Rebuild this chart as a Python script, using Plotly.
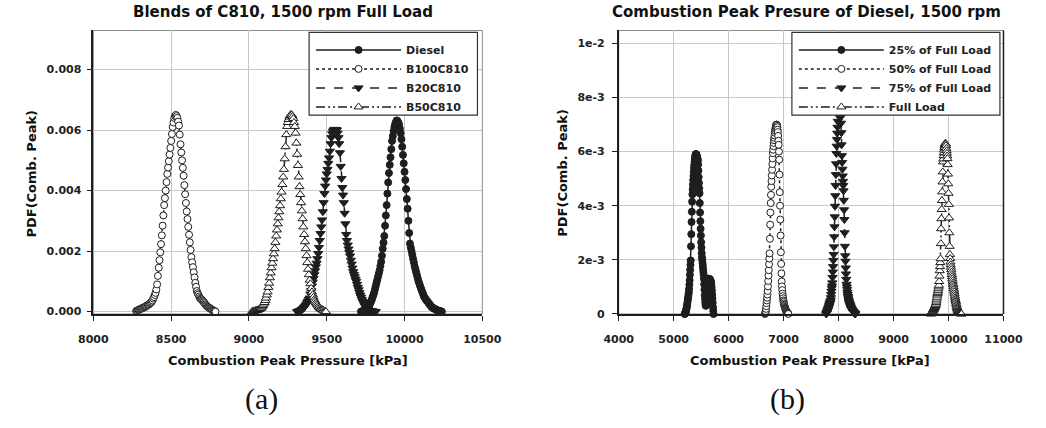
import plotly.graph_objects as go

# ---------------- data (PDF values in units of 1e-5) ----------------
# Panel (a): Blends of C810, 1500 rpm Full Load
DIESEL_X = [9720,9725,9730,9735,9740,9745,9750,9755,9760,9765,
            9770,9775,9780,9785,9790,9795,9800,9805,9810,9815,
            9820,9825,9830,9835,9840,9845,9850,9855,9860,9865,
            9870,9875,9880,9885,9890,9895,9900,9905,9910,9915,
            9920,9925,9930,9935,9940,9945,9950,9955,9960,9965,
            9970,9975,9980,9985,9990,9995,10000,10005,10010,10015,
            10020,10025,10030,10035,10040,10045,10050,10055,10060,10065,
            10070,10075,10080,10085,10090,10095,10100,10105,10110,10115,
            10120,10125,10130,10135,10140,10145,10150,10155,10160,10165,
            10170,10175,10180,10185,10190,10195,10200,10205,10210,10215,
            10220,10225,10230,10235,10240]
DIESEL_Y = [0,1,1,2,3,4,6,8,10,13,
            17,22,28,34,40,48,55,63,74,85,
            95,105,116,126,137,151,165,185,208,228,
            250,284,318,352,390,427,458,485,510,537,
            564,580,597,610,620,627,632,630,625,618,
            605,590,570,545,518,490,462,435,405,372,
            340,300,260,225,212,200,188,175,163,150,
            140,130,120,110,100,93,85,78,71,64,
            57,50,46,42,38,35,32,28,25,22,
            18,15,13,12,10,9,7,6,5,4,
            3,2,1,1,0]

B100_X = [8275,8280,8285,8290,8295,8300,8305,8310,8315,8320,
          8325,8330,8335,8340,8345,8350,8355,8360,8365,8370,
          8375,8380,8385,8390,8395,8400,8405,8410,8415,8420,
          8425,8430,8435,8440,8445,8450,8455,8460,8465,8470,
          8475,8480,8485,8490,8495,8500,8505,8510,8515,8520,
          8525,8530,8535,8540,8545,8550,8555,8560,8565,8570,
          8575,8580,8585,8590,8595,8600,8605,8610,8615,8620,
          8625,8630,8635,8640,8645,8650,8655,8660,8665,8670,
          8675,8680,8685,8690,8695,8700,8705,8710,8715,8720,
          8725,8730,8735,8740,8745,8750,8755,8760,8765,8770,
          8775,8780,8785]
B100_Y = [2,3,4,6,7,8,9,10,12,13,
          14,15,17,18,20,22,23,25,28,30,
          33,37,43,48,55,62,73,90,118,145,
          170,196,223,252,284,318,352,375,400,428,
          455,476,497,519,541,564,587,610,625,640,
          646,650,646,640,628,615,585,553,526,500,
          475,449,418,388,359,331,306,280,254,229,
          204,180,163,147,130,113,95,82,68,61,
          56,50,45,42,40,37,34,31,28,24,
          21,18,16,14,12,11,9,7,5,4,
          3,1,0]

B20_X = [9310,9315,9320,9325,9330,9335,9340,9345,9350,9355,
         9360,9365,9370,9375,9380,9385,9390,9395,9400,9405,
         9410,9415,9420,9425,9430,9435,9440,9445,9450,9455,
         9460,9465,9470,9475,9480,9485,9490,9495,9500,9505,
         9510,9515,9520,9525,9530,9535,9540,9545,9550,9555,
         9560,9565,9570,9575,9580,9585,9590,9595,9600,9605,
         9610,9615,9620,9625,9630,9635,9640,9645,9650,9655,
         9660,9665,9670,9675,9680,9685,9690,9695,9700,9705,
         9710,9715,9720,9725,9730,9735,9740,9745,9750,9755,
         9760,9765,9770,9775,9780,9785,9790,9795,9800,9805,
         9810,9815]
B20_Y = [0,1,1,2,3,5,7,9,11,14,
         17,21,25,30,35,40,45,58,70,85,
         98,110,122,135,148,160,175,192,212,235,
         258,280,303,330,360,390,415,435,455,470,
         490,508,530,555,575,588,596,600,602,602,
         602,600,590,575,555,525,480,440,410,385,
         360,325,290,255,235,220,207,195,184,170,
         157,144,132,123,115,107,100,90,80,72,
         63,55,48,41,35,30,24,19,15,12,
         9,7,5,4,3,2,2,1,1,1,
         0,0]

B50_X = [9020,9025,9030,9035,9040,9045,9050,9055,9060,9065,
         9070,9075,9080,9085,9090,9095,9100,9105,9110,9115,
         9120,9125,9130,9135,9140,9145,9150,9155,9160,9165,
         9170,9175,9180,9185,9190,9195,9200,9205,9210,9215,
         9220,9225,9230,9235,9240,9245,9250,9255,9260,9265,
         9270,9275,9280,9285,9290,9295,9300,9305,9310,9315,
         9320,9325,9330,9335,9340,9345,9350,9355,9360,9365,
         9370,9375,9380,9385,9390,9395,9400,9405,9410,9415,
         9420,9425,9430,9435,9440,9445,9450,9455,9460,9465,
         9470,9475,9480,9485,9490,9495]
B50_Y = [0,1,1,2,3,4,4,5,6,7,
         9,10,12,16,20,25,30,37,45,55,
         65,80,94,112,128,145,160,175,191,208,
         229,250,270,290,310,330,350,373,395,420,
         445,470,505,545,585,612,625,635,643,648,
         652,650,645,638,625,612,590,557,520,483,
         445,413,387,360,333,307,280,255,231,208,
         185,162,140,122,104,92,77,65,56,48,
         40,35,30,26,22,18,15,12,10,8,
         7,5,4,2,1,0]

# Panel (b): Combustion peak pressure of Diesel, 1500 rpm
L25_X = [5200,5205,5210,5215,5220,5225,5230,5235,5240,5245,
         5250,5255,5260,5265,5270,5275,5280,5285,5290,5295,
         5300,5305,5310,5315,5320,5325,5330,5335,5340,5345,
         5350,5355,5360,5365,5370,5375,5380,5385,5390,5395,
         5400,5405,5410,5415,5420,5425,5430,5435,5440,5445,
         5450,5455,5460,5465,5470,5475,5480,5485,5490,5495,
         5500,5505,5510,5515,5520,5525,5530,5535,5540,5545,
         5550,5555,5560,5565,5570,5575,5580,5585,5590,5595,
         5600,5605,5610,5615,5620,5625,5630,5635,5640,5645,
         5650,5655,5660,5665,5670,5675,5680,5685,5690,5695,
         5700,5705,5710,5715,5720,5725]
L25_Y = [0,1,3,5,8,12,17,22,28,35,
         42,50,57,64,72,80,92,108,125,145,
         163,182,198,250,295,340,378,415,442,460,
         478,495,510,525,540,552,563,572,580,586,
         590,591,590,588,585,580,577,573,567,552,
         530,506,484,464,446,410,375,343,315,290,
         265,245,225,210,199,188,178,166,155,145,
         130,110,90,70,55,42,33,30,38,55,
         75,95,110,120,126,128,130,130,130,130,
         129,128,127,126,124,120,115,108,98,86,
         72,58,42,26,12,0]

L50_X = [6660,6665,6670,6675,6680,6685,6690,6695,6700,6705,
         6710,6715,6720,6725,6730,6735,6740,6745,6750,6755,
         6760,6765,6770,6775,6780,6785,6790,6795,6800,6805,
         6810,6815,6820,6825,6830,6835,6840,6845,6850,6855,
         6860,6865,6870,6875,6880,6885,6890,6895,6900,6905,
         6910,6915,6920,6925,6930,6935,6940,6945,6950,6955,
         6960,6965,6970,6975,6980,6985,6990,6995,7000,7005,
         7010,7015,7020,7025,7030,7035,7040,7045,7050,7055,
         7060,7065,7070,7075,7080,7085]
L50_Y = [0,2,5,11,19,29,40,50,60,72,
         85,102,122,142,162,184,205,224,278,330,
         375,410,440,470,491,512,533,554,575,594,
         607,620,632,642,651,660,670,677,684,690,
         695,699,700,699,695,690,681,672,658,640,
         625,600,570,515,450,400,349,290,228,185,
         150,120,102,88,75,66,58,50,45,39,
         34,30,26,23,20,17,15,12,10,9,
         7,6,5,3,2,0]

L75_X = [7775,7780,7785,7790,7795,7800,7805,7810,7815,7820,
         7825,7830,7835,7840,7845,7850,7855,7860,7865,7870,
         7875,7880,7885,7890,7895,7900,7905,7910,7915,7920,
         7925,7930,7935,7940,7945,7950,7955,7960,7965,7970,
         7975,7980,7985,7990,7995,8000,8005,8010,8015,8020,
         8025,8030,8035,8040,8045,8050,8055,8060,8065,8070,
         8075,8080,8085,8090,8095,8100,8105,8110,8115,8120,
         8125,8130,8135,8140,8145,8150,8155,8160,8165,8170,
         8175,8180,8185,8190,8195,8200,8205,8210,8215,8220,
         8225,8230,8235,8240,8245,8250,8255,8260,8265,8270,
         8275,8280,8285,8290,8295,8300,8305]
L75_Y = [0,2,4,7,10,13,15,18,21,24,
         27,31,35,38,42,45,50,60,72,84,
         95,103,115,135,155,175,198,220,248,285,
         322,359,398,437,475,515,555,593,620,645,
         668,690,712,735,758,780,798,812,820,818,
         805,780,755,728,705,670,625,585,560,535,
         510,490,475,455,420,385,349,300,250,215,
         195,170,148,128,110,100,90,80,72,65,
         60,53,48,44,40,37,34,31,28,25,
         22,20,18,16,14,13,11,10,9,7,
         6,5,4,3,2,1,0]

LFULL_X = [9680,9685,9690,9695,9700,9705,9710,9715,9720,9725,
           9730,9735,9740,9745,9750,9755,9760,9765,9770,9775,
           9780,9785,9790,9795,9800,9805,9810,9815,9820,9825,
           9830,9835,9840,9845,9850,9855,9860,9865,9870,9875,
           9880,9885,9890,9895,9900,9905,9910,9915,9920,9925,
           9930,9935,9940,9945,9950,9955,9960,9965,9970,9975,
           9980,9985,9990,9995,10000,10005,10010,10015,10020,10025,
           10030,10035,10040,10045,10050,10055,10060,10065,10070,10075,
           10080,10085,10090,10095,10100,10105,10110,10115,10120,10125,
           10130,10135,10140,10145,10150,10155,10160,10165,10170,10175,
           10180,10185,10190,10195,10200,10205,10210,10215,10220,10225,
           10230,10235]
LFULL_Y = [0,1,3,5,7,8,10,12,14,16,
           18,20,22,24,26,28,31,33,36,42,
           48,55,62,70,75,80,86,93,100,106,
           120,140,160,175,190,204,260,315,352,386,
           419,451,488,525,562,573,585,596,606,615,
           622,627,630,630,628,622,612,603,594,584,
           574,552,517,481,446,405,355,300,250,220,
           205,192,182,173,164,155,146,138,130,122,
           114,108,101,94,88,81,74,67,60,54,
           49,44,38,33,28,24,20,16,13,10,
           9,8,7,6,5,4,3,2,2,1,
           1,0]

NAMES_A = ["Diesel", "B100C810", "B20C810", "B50C810"]
NAMES_B = ["25% of Full Load", "50% of Full Load", "75% of Full Load", "Full Load"]

X_TICKS_A = [8000, 8500, 9000, 9500, 10000, 10500]
Y_TICKS_A = [0.0, 0.002, 0.004, 0.006, 0.008]
X_TICKS_B = [4000, 5000, 6000, 7000, 8000, 9000, 10000, 11000]
Y_TICKS_B = [0.0, 0.002, 0.004, 0.006, 0.008, 0.010]
Y_TICKTEXT_B = ["0", "2e-3", "4e-3", "6e-3", "8e-3", "1e-2"]

# ---------------- styling ----------------
W, H = 1046, 428
def fx(p): return p / W
def fy(p): return 1 - p / H

FONT = "DejaVu Sans"
INK = "#1e1e1e"
GRID = "#c8c8c8"
DASHDOTDOT = "9px,3px,2px,3px,2px,3px"

STYLES = [
    dict(symbol="circle", fill=INK, size=7, dash="solid"),
    dict(symbol="circle", fill="white", size=7, dash="dot"),
    dict(symbol="triangle-down", fill=INK, size=8, dash="dash"),
    dict(symbol="triangle-up", fill="white", size=8, dash=DASHDOTDOT),
]

fig = go.Figure()

def add(xs, ys, name, st, xa, ya, leg):
    assert len(xs) == len(ys), name
    fig.add_trace(go.Scatter(
        x=xs, y=[v * 1e-5 for v in ys], name=name, mode="lines+markers",
        xaxis=xa, yaxis=ya, legend=leg, cliponaxis=False,
        line=dict(color=INK, width=1.5, dash=st["dash"]),
        marker=dict(symbol=st["symbol"], size=st["size"], color=st["fill"],
                    line=dict(color=INK, width=1)),
    ))

for (xs, ys), nm, st in zip([(DIESEL_X, DIESEL_Y), (B100_X, B100_Y), (B20_X, B20_Y), (B50_X, B50_Y)], NAMES_A, STYLES):
    add(xs, ys, nm, st, "x", "y", "legend")
for (xs, ys), nm, st in zip([(L25_X, L25_Y), (L50_X, L50_Y), (L75_X, L75_Y), (LFULL_X, LFULL_Y)], NAMES_B, STYLES):
    add(xs, ys, nm, st, "x2", "y2", "legend2")

tickfont = dict(family=FONT, size=11, color="#222", weight="bold")
axis_common = dict(showgrid=True, gridcolor=GRID, gridwidth=1, zeroline=False,
                   showline=True, linecolor=INK, linewidth=1.5, ticks="outside",
                   ticklen=5, tickwidth=1.2, tickcolor=INK, tickfont=tickfont)

YDOM = [fy(319.2), fy(31)]
legend_font = dict(family=FONT, size=11, color="#222", weight="bold")
fig.update_layout(
    width=W, height=H, margin=dict(l=0, r=0, t=0, b=0), autosize=False,
    paper_bgcolor="white", plot_bgcolor="white",
    xaxis=dict(domain=[fx(81), fx(483)], range=[8000, 10500], tickvals=X_TICKS_A,
               tickformat="d", anchor="y", ticklabelstandoff=9, **axis_common),
    yaxis=dict(domain=YDOM, range=[-0.000078, 0.009291], tickvals=Y_TICKS_A,
               tickformat=".3f", anchor="x", ticklabelstandoff=3, **axis_common),
    xaxis2=dict(domain=[fx(624), fx(1021.7)], range=[4000, 11000], tickvals=X_TICKS_B,
                tickformat="d", anchor="y2", ticklabelstandoff=9, **axis_common),
    yaxis2=dict(domain=YDOM, range=[0, 0.010476], tickvals=Y_TICKS_B, ticktext=Y_TICKTEXT_B,
                anchor="x2", ticklabelstandoff=5, **axis_common),
    showlegend=True,
    legend=dict(x=fx(306), y=fy(36), xanchor="left", yanchor="top",
                bgcolor="rgba(0,0,0,0)", borderwidth=0, itemwidth=85,
                font=legend_font),
    legend2=dict(x=fx(805), y=fy(36), xanchor="left", yanchor="top",
                 bgcolor="rgba(0,0,0,0)", borderwidth=0, itemwidth=85,
                 font=legend_font),
)

shapes = [
    # plot frames
    dict(type="rect", xref="paper", yref="paper", x0=fx(81), x1=fx(483), y0=YDOM[0], y1=YDOM[1],
         line=dict(color="#8a8a8a", width=1), layer="between"),
    dict(type="rect", xref="paper", yref="paper", x0=fx(624), x1=fx(1021.7), y0=YDOM[0], y1=YDOM[1],
         line=dict(color="#8a8a8a", width=1), layer="between"),
    dict(type="line", xref="paper", yref="paper", x0=fx(1021.7), x1=fx(1021.7), y0=YDOM[0], y1=YDOM[1],
         line=dict(color=INK, width=1.5), layer="above"),
    # legend boxes
    dict(type="rect", xref="paper", yref="paper", x0=fx(304), x1=fx(478), y0=fy(117), y1=fy(33),
         fillcolor="white", line=dict(color="#333", width=1.2), layer="above"),
    dict(type="rect", xref="paper", yref="paper", x0=fx(803), x1=fx(1018), y0=fy(117), y1=fy(33),
         fillcolor="white", line=dict(color="#333", width=1.2), layer="above"),
]
fig.update_layout(shapes=shapes)

def ann(text, x, y, size, family=FONT, bold=True, angle=0):
    fig.add_annotation(text=text, xref="paper", yref="paper", x=fx(x), y=fy(y),
                       xanchor="center", yanchor="middle", showarrow=False, textangle=angle,
                       font=dict(family=family, size=size, color="#111",
                                 weight="bold" if bold else "normal"))

ann("Blends of C810, 1500 rpm Full Load", 277, 12, 15)
ann("Combustion Peak Presure of Diesel, 1500 rpm", 818, 12, 15)
ann("Combustion Peak Pressure [kPa]", 282, 367, 13)
ann("Combustion Peak Pressure [kPa]", 822, 367, 13)
ann("PDF(Comb. Peak)", 17, 176, 13, angle=-90)
ann("PDF(Comb. Peak)", 565, 176, 13, angle=-90)
ann("(a)", 255, 406, 30, family="Liberation Serif", bold=False)
ann("(b)", 798, 406, 30, family="Liberation Serif", bold=False)

fig.write_html("out.html")
